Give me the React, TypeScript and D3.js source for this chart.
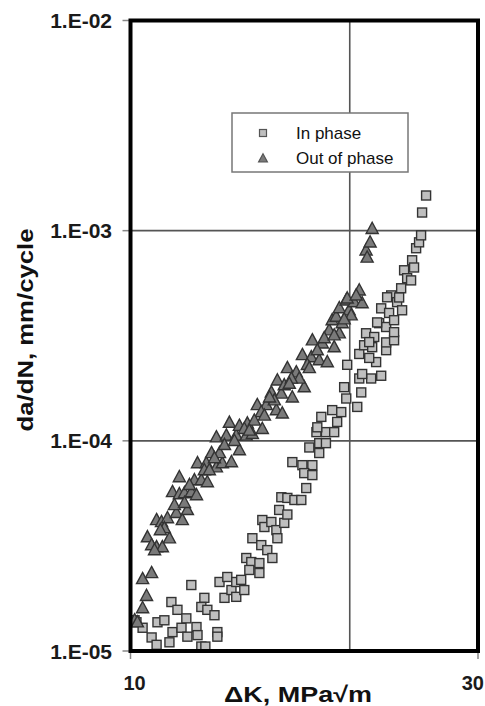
import React from "react";
import * as d3 from "d3";

const W = 485;
const H = 706;

const xDomain: [number, number] = [10, 30];
const yDomain: [number, number] = [1e-5, 1e-2];
const xGridValues = [20];
const yGridValues = [1e-4, 1e-3];
const xTickValues = [10, 30];
const xTickLabels = ["10", "30"];
const yTickValues = [1e-5, 1e-4, 1e-3, 1e-2];
const yTickLabels = ["1.E-05", "1.E-04", "1.E-03", "1.E-02"];
const seriesNames = ["In phase", "Out of phase"];
const xTitle = "ΔK, MPa√m";
const yTitle = "da/dN, mm/cycle";

// In phase: [ΔK, da/dN]
const inPhase: [number, number][] = [
  [10.13, 1.40e-5], [10.19, 1.37e-5], [10.39, 1.29e-5], [10.69, 1.16e-5], [10.86, 1.07e-5],
  [10.89, 1.37e-5], [11.13, 1.40e-5], [11.38, 1.71e-5], [11.60, 1.57e-5], [11.42, 1.23e-5],
  [11.31, 1.10e-5], [11.75, 1.29e-5], [11.97, 1.17e-5], [11.93, 1.43e-5], [12.32, 1.30e-5],
  [12.36, 1.19e-5], [12.51, 1.05e-5], [12.67, 1.05e-5], [12.12, 2.06e-5], [12.63, 1.79e-5],
  [12.51, 1.62e-5], [12.75, 1.57e-5], [13.04, 1.48e-5], [13.16, 1.23e-5], [13.16, 1.17e-5],
  [13.25, 2.13e-5], [13.46, 1.79e-5], [13.58, 2.25e-5], [13.76, 1.95e-5], [13.97, 2.13e-5],
  [13.97, 1.81e-5], [14.19, 2.18e-5], [14.33, 1.95e-5], [14.42, 2.77e-5], [14.65, 2.65e-5],
  [14.56, 2.43e-5], [15.03, 2.62e-5], [15.03, 2.35e-5], [14.70, 3.44e-5], [15.12, 3.19e-5],
  [15.41, 3.02e-5], [15.66, 2.77e-5], [15.17, 4.20e-5], [15.27, 3.89e-5], [15.61, 4.11e-5],
  [15.86, 3.76e-5], [15.91, 3.44e-5], [16.26, 4.07e-5], [16.00, 4.69e-5], [16.42, 4.46e-5],
  [16.11, 5.39e-5], [16.42, 5.35e-5], [16.79, 5.23e-5], [17.16, 5.23e-5], [17.43, 5.96e-5],
  [16.68, 7.92e-5], [17.22, 7.66e-5], [17.77, 7.66e-5], [17.32, 7.02e-5], [17.77, 6.87e-5],
  [17.60, 9.30e-5], [18.16, 9.75e-5], [18.55, 9.75e-5], [18.16, 8.75e-5], [18.00, 1.10e-4],
  [18.55, 1.10e-4], [19.04, 1.10e-4], [18.28, 1.30e-4], [18.05, 1.16e-4], [18.92, 1.40e-4],
  [19.22, 1.23e-4], [19.65, 1.80e-4], [19.78, 1.59e-4], [19.84, 2.30e-4], [19.47, 1.37e-4],
  [20.48, 1.45e-4], [20.74, 1.70e-4], [20.61, 1.98e-4], [21.40, 1.98e-4], [22.09, 2.04e-4],
  [20.80, 2.08e-4], [21.74, 2.37e-4], [21.27, 2.48e-4], [20.61, 2.59e-4], [20.93, 2.85e-4],
  [21.47, 2.79e-4], [22.44, 2.70e-4], [21.06, 3.25e-4], [21.61, 3.12e-4], [22.44, 2.94e-4],
  [23.01, 3.01e-4], [21.95, 3.63e-4], [22.44, 3.48e-4], [23.01, 3.29e-4], [22.09, 4.27e-4],
  [22.65, 4.06e-4], [23.01, 3.75e-4], [22.80, 4.92e-4], [23.23, 4.57e-4], [23.60, 4.18e-4],
  [23.53, 5.32e-4], [23.38, 4.81e-4], [23.75, 6.48e-4], [23.98, 5.94e-4], [24.28, 5.80e-4],
  [24.36, 7.23e-4], [24.51, 6.68e-4], [24.67, 8.25e-4], [24.90, 8.80e-4], [25.06, 9.50e-4],
  [25.14, 1.22e-3], [25.46, 1.47e-3], [21.27, 2.95e-4], [21.81, 3.66e-4], [22.51, 4.82e-4],
];

// Out of phase: [ΔK, da/dN]
const outOfPhase: [number, number][] = [
  [10.13, 1.40e-5], [10.22, 1.37e-5], [10.39, 1.60e-5], [10.52, 1.83e-5], [10.39, 2.20e-5],
  [10.69, 2.35e-5], [10.55, 3.48e-5], [10.69, 3.19e-5], [10.86, 3.12e-5], [11.06, 3.12e-5],
  [11.31, 3.44e-5], [10.86, 4.20e-5], [11.03, 4.11e-5], [11.24, 4.29e-5], [11.56, 4.54e-5],
  [11.78, 4.20e-5], [11.97, 4.69e-5], [11.42, 5.71e-5], [11.67, 5.58e-5], [11.86, 5.64e-5],
  [12.12, 5.70e-5], [12.32, 5.52e-5], [11.67, 6.72e-5], [12.24, 6.50e-5], [12.51, 6.50e-5],
  [12.75, 6.36e-5], [12.36, 7.83e-5], [12.71, 7.83e-5], [13.12, 7.49e-5], [13.37, 7.83e-5],
  [13.76, 7.92e-5], [12.92, 8.75e-5], [13.25, 8.75e-5], [14.11, 9.03e-5], [13.12, 1.04e-4],
  [13.54, 1.06e-4], [13.97, 1.06e-4], [14.42, 1.06e-4], [14.70, 1.08e-4], [13.67, 1.22e-4],
  [14.11, 1.18e-4], [14.47, 1.21e-4], [15.17, 1.14e-4], [14.93, 1.48e-4], [15.36, 1.48e-4],
  [15.86, 1.40e-4], [16.16, 1.35e-4], [15.12, 1.37e-4], [15.61, 1.70e-4], [16.11, 1.68e-4],
  [16.68, 1.61e-4], [15.91, 1.94e-4], [16.42, 2.22e-4], [16.89, 2.12e-4], [17.32, 1.80e-4],
  [17.05, 1.98e-4], [17.22, 2.56e-4], [17.71, 2.50e-4], [18.16, 2.42e-4], [18.63, 2.37e-4],
  [17.77, 3.01e-4], [18.34, 2.91e-4], [19.04, 2.79e-4], [18.74, 3.36e-4], [19.35, 3.25e-4],
  [18.92, 3.75e-4], [19.53, 3.63e-4], [19.16, 3.90e-4], [19.35, 4.28e-4], [19.96, 4.18e-4],
  [19.78, 4.66e-4], [20.28, 4.57e-4], [20.61, 5.20e-4], [20.80, 4.52e-4], [21.06, 8.06e-4],
  [21.13, 7.45e-4], [21.33, 8.80e-4], [21.47, 1.02e-3], [10.79, 3.02e-5], [11.13, 3.84e-5],
  [11.49, 4.95e-5], [12.05, 6.17e-5], [12.63, 7.26e-5], [13.04, 8.27e-5], [13.46, 9.56e-5],
  [13.89, 1.00e-4], [14.33, 1.14e-4], [14.79, 1.25e-4], [15.27, 1.32e-4], [15.76, 1.56e-4],
  [16.26, 1.84e-4], [16.63, 1.98e-4], [17.49, 2.30e-4], [18.05, 2.70e-4], [18.45, 3.08e-4],
  [19.84, 4.76e-4], [20.09, 3.96e-4], [15.52, 1.61e-4], [16.52, 1.87e-4], [17.60, 2.22e-4],
  [19.04, 3.18e-4], [19.65, 3.79e-4], [20.41, 4.92e-4], [14.56, 1.12e-4], [12.83, 7.26e-5],
  [11.86, 5.07e-5], [10.99, 3.76e-5],
];

const FONT = "'Liberation Sans', Arial, Helvetica, sans-serif";
const SQ_FILL = "#bfbfbf";
const TRI_FILL = "#7a7a7a";
const MARK_STROKE = "#333";

const triPath = (s: number) => `M0,${-s * 0.6}L${s * 0.55},${s * 0.42}L${-s * 0.55},${s * 0.42}Z`;

export default function App() {
  const left = 130.5, right = 478, top = 20.5, bottom = 651;
  const x = d3.scaleLog().domain(xDomain).range([left, right]);
  const y = d3.scaleLog().domain(yDomain).range([bottom, top]);

  return (
    <svg width={W} height={H} style={{ position: "absolute", left: 0, top: 0, background: "#fff" }} fontFamily={FONT}>
      <defs>
        <clipPath id="plot">
          <rect x={left} y={top} width={right - left} height={bottom - top} />
        </clipPath>
      </defs>
      {xGridValues.map((v) => (
        <line key={"gx" + v} x1={x(v)} x2={x(v)} y1={top} y2={bottom} stroke="#555" strokeWidth={1.6} />
      ))}
      {yGridValues.map((v) => (
        <line key={"gy" + v} x1={left} x2={right} y1={y(v)} y2={y(v)} stroke="#555" strokeWidth={1.6} />
      ))}
      {yTickValues.map((v, i) => (
        <g key={"yt" + i}>
          <line x1={left - 8} x2={left} y1={y(v)} y2={y(v)} stroke="#888" strokeWidth={1.5} />
          <text x={112} y={y(v)} dy="0.36em" textAnchor="end" fontSize={21} fontWeight="bold" fill="#1a1a1a">
            {yTickLabels[i]}
          </text>
        </g>
      ))}
      {xTickValues.map((v, i) => (
        <g key={"xt" + i}>
          <line x1={x(v)} x2={x(v)} y1={bottom} y2={bottom + 8} stroke="#888" strokeWidth={1.5} />
          <text
            x={i === xTickValues.length - 1 ? 484 : x(v) + 4}
            y={690}
            textAnchor={i === xTickValues.length - 1 ? "end" : "middle"}
            fontSize={20}
            fontWeight="bold"
            fill="#1a1a1a"
          >
            {xTickLabels[i]}
          </text>
        </g>
      ))}
      <g clipPath="url(#plot)">
        {inPhase.map((d, i) => (
          <rect
            key={"s" + i}
            x={x(d[0]) - 4.5}
            y={y(d[1]) - 4.5}
            width={9}
            height={9}
            fill={SQ_FILL}
            stroke={MARK_STROKE}
            strokeWidth={1.4}
          />
        ))}
        {outOfPhase.map((d, i) => (
          <path
            key={"t" + i}
            d={triPath(11)}
            transform={`translate(${x(d[0])},${y(d[1])})`}
            fill={TRI_FILL}
            stroke={MARK_STROKE}
            strokeWidth={1.4}
          />
        ))}
      </g>
      <rect x={left} y={top} width={right - left} height={bottom - top} fill="none" stroke="#000" strokeWidth={4} />
      <g>
        <rect x={232} y={113} width={176} height={59} fill="#fff" stroke="#777" strokeWidth={1.5} />
        <rect x={259.5} y={129.5} width={7} height={7} fill={SQ_FILL} stroke="#555" strokeWidth={1.2} />
        <path d={triPath(8)} transform="translate(263,158.5)" fill={TRI_FILL} stroke="#555" strokeWidth={1.2} />
        <text x={296} y={139} fontSize={17} fill="#111">{seriesNames[0]}</text>
        <text x={296} y={164} fontSize={17} fill="#111">{seriesNames[1]}</text>
      </g>
      <text x={298} y={702} textAnchor="middle" fontSize={22} fontWeight="bold" fill="#111" textLength={148} lengthAdjust="spacingAndGlyphs">
        {xTitle}
      </text>
      <text
        transform={`translate(33,330) rotate(-90)`}
        textAnchor="middle"
        fontSize={22}
        fontWeight="bold"
        fill="#111"
        textLength={203}
        lengthAdjust="spacingAndGlyphs"
      >
        {yTitle}
      </text>
    </svg>
  );
}
